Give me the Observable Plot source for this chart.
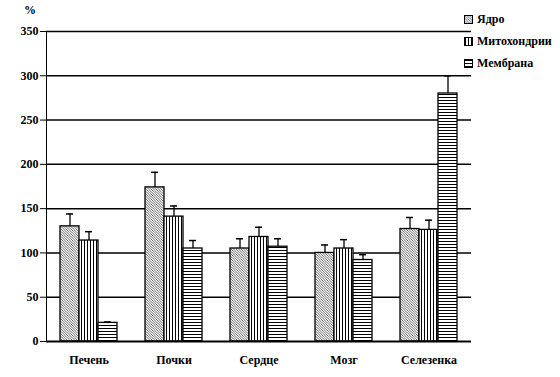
<!DOCTYPE html>
<html><head><meta charset="utf-8">
<script src="https://cdn.jsdelivr.net/npm/d3@7"></script>
<script src="https://cdn.jsdelivr.net/npm/@observablehq/plot@0.6"></script>
<style>
body{margin:0;background:#fff;}
#wrap{position:relative;width:560px;height:377px;font-family:"Liberation Serif",serif;font-weight:bold;color:#000;}
#pct{position:absolute;left:24px;top:3px;font-size:12px;}
#legend{position:absolute;left:464px;top:8px;font-size:12px;line-height:22px;}
#legend div{display:flex;align-items:center;height:22px;}
#legend svg{margin-right:4px;}
svg.plot, svg.plot text{font-family:"Liberation Serif",serif !important;font-weight:bold;}
</style>
</head><body>
<div id="wrap"><div id="pct">%</div><div id="legend"></div></div>
<script>
const organs = ["Печень", "Почки", "Сердце", "Мозг", "Селезенка"];
const series = ["Ядро", "Митохондрии", "Мембрана"];
const yadro = [130, 174, 105, 100, 127];
const yadroErr = [14, 17, 11, 9, 13];
const mito = [114, 141, 118, 105, 126];
const mitoErr = [10, 12, 11, 10, 11];
const membrana = [21, 105, 107, 92, 280];
const membranaErr = [1, 9, 9, 6, 20];
const yTicks = [0, 50, 100, 150, 200, 250, 300, 350];

const vals = [yadro, mito, membrana];
const errs = [yadroErr, mitoErr, membranaErr];
const data = [];
organs.forEach((o, i) => series.forEach((s, j) => data.push({organ: o, series: s, value: vals[j][i], top: vals[j][i] + errs[j][i]})));

const patIds = ["pat-diag", "pat-vert", "pat-horz"];
const defs = `
<pattern id="pat-diag" patternUnits="userSpaceOnUse" width="2.5" height="2.5">
  <rect width="2.5" height="2.5" fill="#fff"/>
  <path d="M-1,-1 L3.5,3.5 M-1,1.5 L1,3.5 M1.5,-1 L3.5,1" stroke="#444" stroke-width="0.8"/>
</pattern>
<pattern id="pat-vert" patternUnits="userSpaceOnUse" width="3" height="3">
  <rect width="3" height="3" fill="#fff"/>
  <rect x="1" width="1" height="3" fill="#000"/>
</pattern>
<pattern id="pat-horz" patternUnits="userSpaceOnUse" width="3" height="3">
  <rect width="3" height="3" fill="#fff"/>
  <rect y="1" width="3" height="1" fill="#000"/>
</pattern>`;

const chart = Plot.plot({
  width: 560, height: 377,
  marginLeft: 44, marginRight: 88, marginTop: 31, marginBottom: 36,
  style: {fontFamily: "Liberation Serif", fontWeight: "bold", fontSize: "12px", color: "#000", background: "#fff"},
  fx: {domain: organs, padding: 0, label: null, axis: "bottom", tickSize: 0, tickPadding: 14},
  x: {domain: series, paddingInner: 0, paddingOuter: 0.72, axis: null},
  y: {domain: [0, 350], ticks: yTicks, tickSize: 6, tickPadding: 2, label: null, line: true},
  color: {domain: series, range: patIds.map(d => `url(#${d})`)},
  marks: [
    Plot.ruleY(yTicks.slice(1), {stroke: "#000", strokeWidth: 1.5}),
    Plot.barY(data, {fx: "organ", x: "series", y: "value", fill: "series", stroke: "#000", strokeWidth: 1.3, inset: 0}),
    Plot.ruleX(data, {fx: "organ", x: "series", y1: "value", y2: "top", stroke: "#000", strokeWidth: 1.3}),
    Plot.tickY(data, {fx: "organ", x: "series", y: "top", stroke: "#000", strokeWidth: 1.5, insetLeft: 6, insetRight: 6}),
    Plot.ruleY([0], {stroke: "#000", strokeWidth: 2})
  ]
});
d3.select(chart).insert("defs", ":first-child").html(defs);
document.getElementById("wrap").prepend(chart);

const leg = d3.select("#legend");
series.forEach((s, j) => {
  const row = leg.append("div");
  row.append("svg").attr("width", 9).attr("height", 9).html(defs.replace(/id="pat-/g, 'id="leg-pat-') +
    `<rect x="0.5" y="0.5" width="8" height="8" fill="url(#leg-${patIds[j]})" stroke="#000" stroke-width="1"/>`);
  row.append("span").text(s);
});
</script>
</body></html>
